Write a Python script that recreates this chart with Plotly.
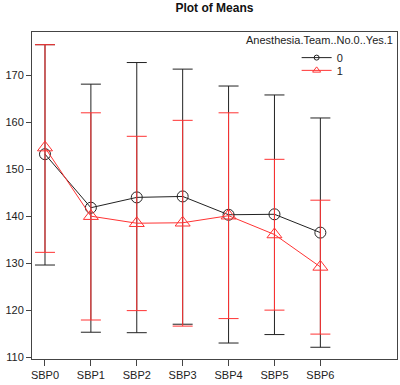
import plotly.graph_objects as go

categories = ["SBP0", "SBP1", "SBP2", "SBP3", "SBP4", "SBP5", "SBP6"]

# group 0 (black)
mean0 = [153.2, 141.8, 144.0, 144.2, 140.3, 140.4, 136.5]
upper0 = [176.5, 168.1, 172.7, 171.3, 167.7, 165.8, 160.9]
lower0 = [129.6, 115.3, 115.2, 117.0, 113.0, 114.8, 112.1]

# group 1 (red)
mean1 = [154.6, 140.0, 138.5, 138.6, 140.1, 136.1, 129.2]
upper1 = [176.5, 162.0, 157.0, 160.4, 162.0, 152.1, 143.4]
lower1 = [132.3, 117.9, 119.9, 116.6, 118.2, 120.0, 114.9]

legend_title = "Anesthesia.Team..No.0..Yes.1"
group_names = ["0", "1"]

x = list(range(len(categories)))
FONT = "Liberation Sans, Arial, sans-serif"
BLACK = "#222222"
RED = "#ff3333"

def trace(mean, up, lo, color, symbol, name, size):
    return go.Scatter(
        x=x, y=mean, mode="lines+markers", name=name, showlegend=False,
        line=dict(color=color, width=1),
        marker=dict(symbol=symbol, size=size, color=color, line=dict(color=color, width=1)),
        error_y=dict(type="data", symmetric=False,
                     array=[u - m for u, m in zip(up, mean)],
                     arrayminus=[m - l for m, l in zip(mean, lo)],
                     color=color, thickness=1, width=10),
    )

def legend_key(color, symbol, name, size, legend):
    # legend-only entry with a small key marker, as in the reference legend
    return go.Scatter(
        x=[None], y=[None], mode="lines+markers", name=name, legend=legend, showlegend=True,
        line=dict(color=color, width=1),
        marker=dict(symbol=symbol, size=size, color=color, line=dict(color=color, width=1)),
    )

fig = go.Figure()
fig.add_trace(trace(mean0, upper0, lower0, BLACK, "circle-open", group_names[0], 11))
fig.add_trace(trace(mean1, upper1, lower1, RED, "triangle-up-open", group_names[1], 13))
fig.add_trace(legend_key(BLACK, "circle-open", group_names[0], 5, "legend"))
fig.add_trace(legend_key(RED, "triangle-up-open", group_names[1], 7, "legend2"))

leg = dict(xanchor="left", yanchor="top", bgcolor="rgba(0,0,0,0)", font=dict(size=11))
fig.update_layout(
    width=400, height=385,
    margin=dict(l=32, r=3, t=32, b=26, autoexpand=False),
    paper_bgcolor="white", plot_bgcolor="white",
    font=dict(family=FONT, size=11, color="#222222"),
    title=dict(text="<b>Plot of Means</b>", x=0.536, xanchor="center", y=0.99, yanchor="top",
               font=dict(size=12, color="#111111")),
    showlegend=True,
    legend=dict(x=0.725, y=0.966, **leg),
    legend2=dict(x=0.725, y=0.927, **leg),
    annotations=[dict(text=legend_title, xref="paper", yref="paper", x=0.995, y=1.0,
                      xanchor="right", yanchor="top", showarrow=False,
                      font=dict(size=11, color="#222222"))],
)
fig.update_xaxes(range=[-0.283, 7.67], tickvals=x, ticktext=categories, automargin=False,
                 showgrid=False, zeroline=False, ticks="outside", ticklen=6,
                 tickcolor="#444444", showline=True, linecolor="#444444", mirror=True,
                 tickfont=dict(size=11))
fig.update_yaxes(range=[109.6, 179.2], tickvals=[110, 120, 130, 140, 150, 160, 170], automargin=False,
                 showgrid=False, zeroline=False, ticks="outside", ticklen=5,
                 tickcolor="#444444", showline=True, linecolor="#444444", mirror=True,
                 tickfont=dict(size=11))

fig.write_html("out.html", config={"displayModeBar": False},
               post_script="document.body.style.margin='0';document.body.style.padding='0';")
